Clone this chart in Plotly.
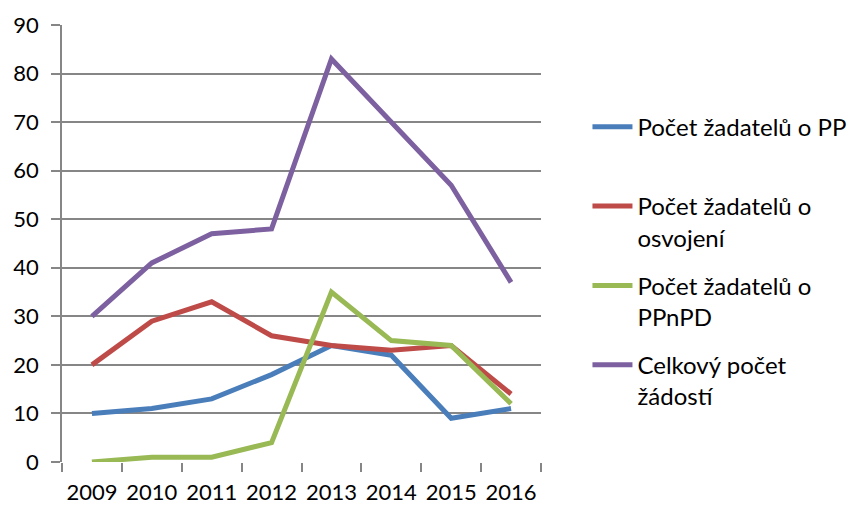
import plotly.graph_objects as go

years = ["2009", "2010", "2011", "2012", "2013", "2014", "2015", "2016"]
pp = [10, 11, 13, 18, 24, 22, 9, 11]
osvojeni = [20, 29, 33, 26, 24, 23, 24, 14]
ppnpd = [0, 1, 1, 4, 35, 25, 24, 12]
celkem = [30, 41, 47, 48, 83, 70, 57, 37]

names = ["Počet žadatelů o PP<br> ", "Počet žadatelů o<br>osvojení",
         "Počet žadatelů o<br>PPnPD", "Celkový počet<br>žádostí"]
series = [pp, osvojeni, ppnpd, celkem]
colors = ["#4A7EBB", "#BE4B48", "#98B954", "#7D60A0"]
y_ticks = [0, 10, 20, 30, 40, 50, 60, 70, 80, 90]

FONT = "Lato"
fig = go.Figure()
for i, (n, s, c) in enumerate(zip(names, series, colors)):
    fig.add_trace(go.Scatter(x=years, y=s, name=n, mode="lines",
                             line=dict(color=c, width=5),
                             legendgroup=str(i)))

grid = "#868686"
fig.update_layout(
    width=853, height=506,
    margin=dict(l=62, r=312, t=25, b=44, autoexpand=False),
    plot_bgcolor="white", paper_bgcolor="white",
    font=dict(family=FONT, size=22, color="black"),
    showlegend=True,
    legend=dict(x=1.097, xanchor="left", y=0.818, yanchor="top",
                valign="top", tracegroupgap=14,
                font=dict(family=FONT, size=24, color="black"),
                itemwidth=40, bgcolor="rgba(0,0,0,0)"),
    xaxis=dict(type="category", range=[-0.5, 7.5], tickson="boundaries",
               ticks="outside", ticklen=9, tickcolor=grid, tickwidth=1.5,
               showgrid=False, showline=False, zeroline=False, tickangle=0,
               automargin=False,
               tickfont=dict(family=FONT, size=22), ticklabelstandoff=15),
    yaxis=dict(range=[0, 90], tickvals=y_ticks, ticks="outside", ticklen=9,
               tickcolor=grid, tickwidth=1.5, showgrid=True, gridcolor=grid,
               gridwidth=1.5, showline=True, linecolor=grid, linewidth=1.5,
               zeroline=False, automargin=False,
               tickfont=dict(family=FONT, size=22),
               ticklabelstandoff=8),
)
fig.write_html("out.html", config={"displayModeBar": False},
               post_script="document.body.style.margin='0';"
                           "document.body.style.overflow='hidden';")
